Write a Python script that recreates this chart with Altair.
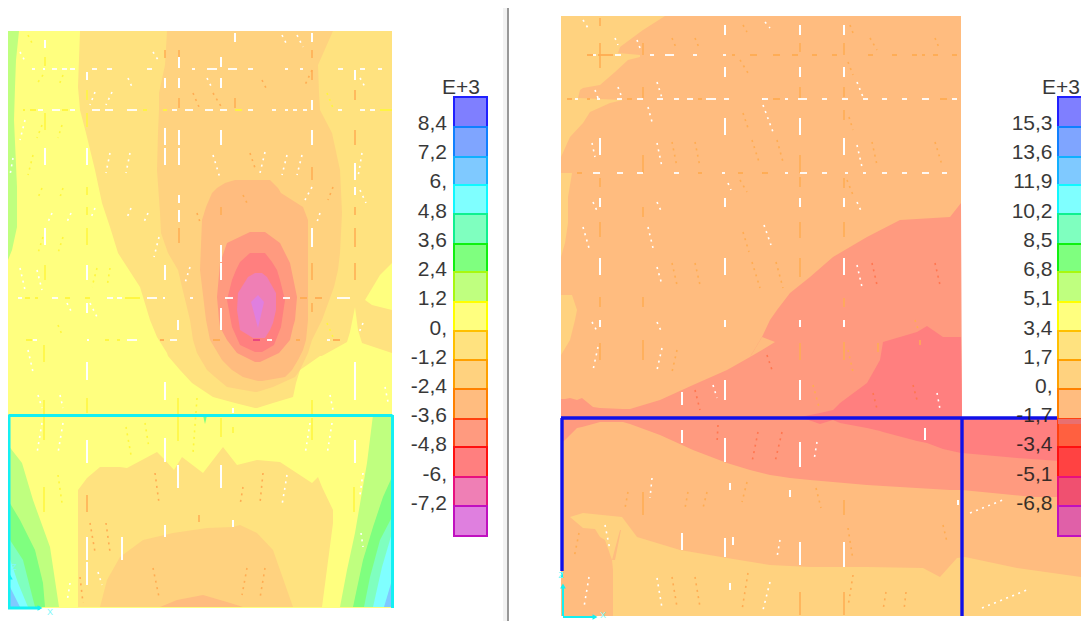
import altair as alt
import pandas as pd

# ---------- palette of the contour levels ----------
BLUE, LBLUE, SKY, CYAN = "#7F7FFF", "#7FA5FF", "#7FC9FF", "#7FFFFF"
MINT, GREEN, LGREEN, YELLOW = "#7FFFBF", "#7FFF7F", "#BFFF7F", "#FFFF7F"
LO, O2, O3, SALMON = "#FFE27F", "#FFD27F", "#FFBC7F", "#FF9A7F"
RED, PINK, MAG = "#FF7F7F", "#EF7FB5", "#DF7FDF"
W, O, Y, R = "#FFFFFF", "#FFAC52", "#FFF63C", "#FF7650"

# ---------- legend ----------
LEG_EDGES = [97, 127, 157, 185, 214, 244, 272, 302, 331, 360, 389, 419, 447, 477, 506, 536]
LEG_LEFT_FILL = [BLUE, LBLUE, SKY, CYAN, MINT, GREEN, LGREEN, YELLOW, LO, O2, O3, SALMON, RED, PINK, MAG]
LEG_RIGHT_FILL = [BLUE, LBLUE, SKY, CYAN, MINT, GREEN, LGREEN, YELLOW, LO, O2, O3, "#FF6040", "#FF4242", "#F05070", "#E060A8"]
LEG_STROKE = ["#2020FF", "#1080FF", "#10B0FF", "#10F8FF", "#10F090", "#10F010", "#A8F810", "#FFFF00",
              "#FFC000", "#FFA000", "#FF8000", "#FF4010", "#FF1010", "#E8107F", "#C010C0"]
LEFT_LABELS = ["8,4", "7,2", "6,", "4,8", "3,6", "2,4", "1,2", "0,", "-1,2", "-2,4", "-3,6", "-4,8", "-6,", "-7,2"]
RIGHT_LABELS = ["15,3", "13,6", "11,9", "10,2", "8,5", "6,8", "5,1", "3,4", "1,7", "0,", "-1,7", "-3,4", "-5,1", "-6,8"]
LABEL_Y = [124, 153, 182, 212, 241, 270, 299, 329, 358, 387, 416, 445, 475, 504]

# ---------- left panel contours: (y, left, right) rows ----------
L_LO = [(31,80,392),(87,78,392),(110,80,392),(133,86,392),(170,95,392),(203,102,392),(227,110,392),(253,118,392),
        (287,140,392),(320,150,392),(337,157,392),(353,167,392),(356,168,320),(370,180,300),(383,192,296),
        (397,213,293),(403,235,273),(408,255,257)]
L_Y_CORNER = [(263,392,392),(275,380,392),(300,365,392),(305,372,392),(310,392,392)]
L_O2 = [(31,167,333),(65,165,318),(93,159,319),(110,159,320),(133,158,332),(170,157,340),(213,160,342),(233,161,341),
        (253,168,340),(270,178,338),(287,182,334),(320,190,322),(340,193,312),(353,197,308),(370,207,300),
        (377,215,295),(387,227,273),(392,255,257)]
L_O3 = [(180,235,270),(183,225,273),(188,217,278),(193,212,281),(207,206,303),(220,202,308),(270,200,308),(320,206,308),
        (340,210,306),(350,216,303),(360,222,298),(370,232,292),(377,243,285),(381,258,262)]
L_SALMON = [(232,250,265),(243,227,280),(263,220,290),(297,217,297),(320,219,295),(327,220,293),(340,227,290),(353,237,279),(362,255,260)]
L_RED = [(253,250,265),(262,240,272),(270,236,277),(280,232,280),(300,227,285),(327,232,281),(345,240,274),(352,255,262)]
L_PINK = [(273,255,262),(277,248,267),(293,238,276),(310,237,276),(323,239,273),(330,240,270),(338,253,265)]
L_MAG = [(295,258,258),(302,251,264),(328,258,258)]
L_GREEN_STRIP = [(31,8,19),(60,8,16),(87,8,15),(120,8,14),(187,8,17),(227,8,17),(250,8,12),(260,8,8)]
# bottom-left corner fans: (y, left, right)
LC = [(LGREEN,[(445,8,8),(463,8,22),(500,8,33),(547,8,50),(607,8,59)]),
      (GREEN,[(500,8,8),(520,8,20),(550,8,35),(583,8,43),(607,8,45)]),
      (MINT,[(537,8,8),(560,8,23),(607,8,35)]),
      (CYAN,[(553,8,8),(583,8,18),(607,8,28)]),
      (SKY,[(583,8,8),(607,8,20)]),
      (LGREEN,[(415,373,392),(463,367,392),(533,355,392),(570,347,392),(607,340,392)]),
      (GREEN,[(477,392,392),(497,383,392),(527,373,392),(560,363,392),(607,353,392)]),
      (MINT,[(517,392,392),(540,380,392),(577,370,392),(607,364,392)]),
      (CYAN,[(533,392,392),(567,382,392),(607,373,392)]),
      (SKY,[(580,392,392),(607,384,392)]),
      (GREEN,[(415,203,207),(420,204,206),(424,205,205)])]
# (x, top, bottom) columns
L_Y_PATCH = [(320,357,360),(347,342,360),(350,332,360),(355,307,360),(358,330,360),(362,343,360),(392,353,360)]
L_BOT_LO = [(78,490,607),(87,478,607),(100,467,607),(120,467,607),(127,468,607),(157,452,607),(165,460,607),(174,470,607),
            (182,457,607),(203,473,607),(223,447,607),(237,465,607),(257,460,607),(280,462,607),(312,483,607),(318,477,607),
            (322,487,607),(333,510,523)]
L_BOT_O2 = [(100,607,607),(107,580,607),(120,557,607),(143,540,607),(173,533,607),(207,528,607),(233,527,607),(240,525,607),
            (257,533,607),(273,550,607),(293,607,607)]
L_BOT_O3 = [(160,607,607),(177,600,607),(203,595,607),(227,602,607),(243,607,607)]

# ---------- right panel contours ----------
R_O2_TOP = [(16,561,665),(30,561,643),(47,561,620),(53,561,618),(55,561,640),(57,561,640),(60,561,628),(72,561,615),(85,561,600),
            (88,561,583),(90,561,580),(98,561,578),(100,561,623),(103,561,610),(112,561,590),(123,561,583),(137,561,570),(157,561,561)]
R_O2_EDGE1 = [(173,561,572),(197,561,568),(223,561,568),(243,561,565),(257,561,561)]
R_O2_EDGE2 = [(295,561,572),(310,561,577),(320,561,575),(340,561,570),(355,561,561)]
R_SALMON = [(561,399,443),(565,399,440),(570,398,435),(577,400,428),(582,398,427),(593,407,424),(600,408,422),(623,409,422),
            (630,409,424),(660,400,435),(693,385,450),(727,370,463),(750,357,470),(762,337,473),(770,320,475),(777,310,476),
            (790,293,478),(810,277,480),(833,257,482),(867,237,485),(900,220,487),(950,217,490),(961,203,490),(962,418,490),
            (1033,418,497),(1089,418,497)]
R_O3_TIP = [(750,357,357),(762,350,337),(775,342,342)]
R_RED = [(800,417,417),(820,413,424),(833,410,420),(840,403,423),(867,383,428),(880,360,431),(883,342,432),(917,332,441),
         (927,326,443),(943,337,449),(961,337,453),(962,418,453),(1017,418,458),(1089,418,463)]
R_O2_BOT = [(561,517,616),(570,517,616),(583,513,616),(622,517,616),(637,537,616),(680,550,616),(727,558,616),(770,565,616),
            (810,567,616),(867,567,616),(923,568,616),(940,577,616),(957,558,616),(965,557,616),(1017,568,616),(1089,578,616)]
R_O3_WEDGE = [(561,510,616),(570,517,616),(583,528,616),(595,529,616),(600,537,616),(605,540,616),(612,560,616),(613,570,616)]
R_O3_SPIKE = [(530,620,621),(560,612,615)]

# ---------- element edges: vertical ticks  (x, y0, y1, colour) ----------
V_TICKS = [
 (45,40,48,W),(45,57,66,Y),(45,113,130,Y),(45,148,165,W),(45,228,245,W),(45,265,280,Y),
 (87,72,80,W),(87,90,100,Y),(87,113,127,Y),(87,148,165,W),(87,187,195,Y),(87,207,215,Y),(87,228,245,Y),(87,265,280,W),(87,303,313,W),
 (165,50,58,O),(165,78,88,W),(165,128,145,W),(165,148,165,W),(165,265,280,W),
 (179,50,58,O),(179,57,68,W),(179,78,88,W),(179,98,108,O),(179,130,145,W),(179,148,165,W),(179,195,203,W),(179,210,222,W),(179,228,243,O),
 (221,57,67,W),(221,78,88,W),(221,130,145,W),(221,207,215,O),(221,245,262,W),(221,263,280,W),(221,308,320,W),(235,33,42,W),(235,98,108,O),
 (312,33,42,W),(312,50,58,O),(312,70,80,O),(312,100,110,W),(312,130,145,W),(312,167,180,O),(312,228,247,W),(312,263,280,O),(312,303,312,O),
 (355,70,80,W),(355,90,100,O),(355,130,145,O),(355,163,180,W),(355,187,195,W),(355,207,215,O),(355,228,247,O),(355,263,280,O),
 (44,345,362,Y),(44,400,415,Y),(44,417,440,Y),(44,487,512,Y),
 (87,362,380,W),(87,398,413,Y),(87,440,463,W),(87,495,512,O),(87,537,560,W),(87,562,585,W),(122,537,560,W),
 (165,382,400,W),(165,438,462,W),(165,525,537,W),(178,320,330,W),(178,398,415,Y),(178,417,441,Y),(178,465,488,W),
 (221,320,330,W),(221,418,437,Y),(221,465,488,W),(233,408,413,W),(233,427,433,Y),(233,520,527,W),(199,515,522,O),
 (312,400,415,Y),(312,418,440,Y),(355,362,400,W),(355,440,463,W),(354,487,512,Y),
 (600,18,26,O),(600,43,68,O),(600,138,155,W),(600,178,187,O),(600,198,207,W),(600,222,237,O),(600,258,275,W),(600,297,307,O),(600,320,327,W),(600,343,360,O),
 (643,43,55,O),(643,87,98,O),(643,155,173,O),(643,207,217,O),(643,297,307,O),(643,340,360,O),(643,492,515,O),
 (725,25,35,W),(725,67,77,W),(725,118,135,W),(725,198,207,W),(725,258,275,W),(725,320,327,W),(725,380,400,W),(725,438,462,W),(725,538,557,W),
 (682,392,405,W),(682,430,443,W),(682,533,550,W),(730,483,490,W),(733,537,545,W),(730,583,590,W),(790,490,497,W),
 (800,25,35,W),(800,43,52,O),(800,67,77,W),(800,87,98,O),(800,118,135,W),(800,155,173,O),(800,177,187,O),(800,198,207,W),(800,222,238,O),(800,258,277,O),
 (800,320,327,W),(800,343,360,O),(800,380,400,W),(800,442,467,W),(800,542,565,W),(800,592,615,O),
 (844,25,35,W),(844,43,55,O),(844,67,77,W),(844,87,97,O),(844,110,120,O),(844,138,155,W),(844,178,188,O),(844,198,207,W),(844,222,237,O),(844,258,275,W),(844,298,307,O),
 (844,320,327,W),(844,342,360,O),(844,500,515,O),(844,542,567,W),(844,592,615,O),(878,343,352,O),(925,428,440,W),(920,340,345,O),(958,500,505,W),
]
# ---------- mesh lines: horizontal dashes (y, x0, x1, colour) ----------
H_DASHES = [(69,a,b,W) for a,b in [(32,35),(43,45),(52,57),(62,67),(70,75),(92,97),(107,112),(147,152),(192,195),(207,217),(228,237),(248,253),(285,288),(300,303),(338,343),(360,365),(378,382)]]
H_DASHES += [(110,a,b,W) for a,b in [(38,43),(52,60),(70,75),(92,100),(105,113),(127,137),(172,177),(185,193),(205,213),(220,227),(248,253),(272,276),(285,288),(293,297),(303,307),(338,342),(360,365),(370,375)]]
H_DASHES += [(110,a,b,Y) for a,b in [(23,25),(30,36),(62,68),(143,147),(163,167),(235,242),(380,392)]]
H_DASHES += [(298,a,b,W) for a,b in [(18,22),(52,58),(107,113),(117,122),(147,157),(163,165),(190,193),(225,233),(283,290),(337,350)]]
H_DASHES += [(298,a,b,Y) for a,b in [(25,30),(35,38),(65,70),(85,90),(125,140)]] + [(298,a,b,O) for a,b in [(300,307),(315,322)]]
H_DASHES += [(340,a,b,W) for a,b in [(33,37),(87,89),(127,137),(170,177),(267,272),(327,330)]]
H_DASHES += [(340,a,b,Y) for a,b in [(26,32),(105,109),(117,120)]] + [(340,a,b,O) for a,b in [(160,164),(213,220),(296,300),(333,340)]] + [(340,253,260,"#E8407F")]
H_DASHES += [(55,a,b,W) for a,b in [(593,596),(615,621),(650,654),(665,674),(693,697),(723,726)]]
H_DASHES += [(55,a,b,O) for a,b in [(587,593),(598,613),(732,735),(750,757),(773,780),(792,798),(812,817),(832,837),(868,873),(892,897),(912,917),(922,925),(933,938),(952,957)]]
H_DASHES += [(99,a,b,W) for a,b in [(575,578),(597,600),(617,622),(637,643),(657,663),(674,679),(687,693),(706,716),(724,729),(762,768),(785,788),(798,807),(822,827),(842,848),(863,868),(882,887),(902,907),(922,929),(952,957)]]
H_DASHES += [(99,a,b,O) for a,b in [(567,572),(587,590),(627,632),(698,702),(773,780),(940,947)]]
H_DASHES += [(173,a,b,W) for a,b in [(593,600),(617,623),(637,643),(674,679),(722,725),(785,788),(800,807),(822,827),(845,848),(863,866),(882,887),(902,907),(922,929),(942,947)]]
H_DASHES += [(173,a,b,O) for a,b in [(577,582),(698,702),(738,743),(762,768)]]

# ---------- slanted dotted mesh lines (x0, y0, x1, y1, colour) ----------
DOTS = [
 (28,35,33,45,Y),(20,52,26,63,W),(153,52,160,63,W),(128,78,132,87,W),(207,78,212,88,W),(43,75,36,85,Y),(63,75,59,85,Y),(95,92,90,105,W),(112,92,106,105,W),
 (193,93,199,107,O),(213,93,222,108,O),(25,120,20,140,W),(62,125,58,138,Y),(42,125,37,138,Y),(13,158,10,175,W),(33,155,28,175,Y),(110,153,106,173,W),(130,153,126,173,W),
 (213,155,220,178,W),(42,188,37,200,Y),(63,188,59,200,Y),(243,195,247,203,O),(52,213,48,222,W),(71,213,67,222,W),(95,208,90,220,W),(131,208,126,220,W),(148,213,144,222,W),
 (197,213,200,222,O),(159,237,154,257,W),(63,237,58,253,Y),(43,237,38,253,Y),(20,268,25,290,W),(37,270,42,290,W),(97,268,92,287,Y),(110,268,107,287,Y),(190,267,185,283,W),
 (67,303,72,313,W),(90,303,97,317,W),(282,35,287,45,W),(297,35,303,47,W),(262,80,266,88,O),(312,70,305,85,O),(360,78,365,87,W),(327,93,333,108,Y),(265,152,260,173,W),
 (287,155,282,175,W),(302,155,297,175,W),(250,153,255,168,O),(312,187,305,200,W),(333,187,328,200,O),(320,213,317,222,W),(360,190,366,203,W),(362,153,358,177,W),
 (28,350,33,372,W),(58,325,63,337,Y),(38,395,42,408,W),(60,395,63,408,W),(42,423,37,453,W),(63,423,58,453,W),(126,427,131,455,Y),(145,423,149,448,Y),(58,475,62,503,Y),
 (155,473,159,503,O),(90,523,95,552,O),(106,523,110,552,O),(80,577,83,603,O),(153,568,159,597,O),(247,568,242,595,O),(243,487,240,505,O),(197,398,193,453,Y),(70,583,67,602,W),
 (98,572,102,585,W),(330,395,333,410,W),(332,423,327,455,W),(310,423,305,455,W),(287,475,282,505,W),(263,473,260,503,O),(265,568,260,598,O),(363,473,360,495,W),
 (361,533,363,547,W),(363,323,358,335,W),(327,323,333,337,Y),(385,387,388,402,W),
 (583,20,588,28,W),(615,38,618,45,W),(637,40,640,48,W),(672,38,677,50,O),(695,38,700,50,O),(765,22,770,28,W),(743,25,747,32,O),(740,60,748,73,O),(595,90,598,98,W),(618,87,622,98,W),
 (657,82,662,98,W),(648,107,652,122,W),(763,105,773,132,W),(743,113,748,128,O),(592,143,595,157,W),(657,143,662,167,W),(672,142,677,167,O),(695,142,700,167,O),(752,140,759,162,O),
 (777,140,783,162,O),(740,180,747,192,O),(728,183,731,190,W),(593,202,598,213,W),(657,202,662,213,W),(583,227,589,248,W),(648,227,653,248,W),(743,232,749,252,O),(764,225,771,245,W),
 (657,267,662,285,W),(672,263,677,285,O),(695,263,700,285,O),(752,262,760,288,O),(776,262,783,288,O),(850,25,853,33,O),(870,38,877,50,O),(935,38,940,50,O),(848,62,853,75,O),
 (857,82,863,97,W),(849,117,853,130,O),(857,145,862,167,W),(872,142,877,165,O),(935,142,942,165,O),(847,180,853,195,O),(857,202,862,213,W),(857,265,862,287,W),(872,263,877,285,R),
 (935,263,940,285,R),(592,322,598,333,W),(657,322,662,333,W),(598,347,593,370,W),(662,348,657,370,W),(677,350,672,372,O),(767,355,773,373,R),(713,385,717,398,W),(695,390,700,410,R),
 (718,425,717,443,R),(758,432,752,462,R),(782,432,775,462,R),(652,478,650,498,W),(747,482,742,502,O),(688,492,685,508,O),(707,492,703,508,O),(628,492,625,508,O),(605,525,610,550,W),
 (780,540,777,557,W),(589,577,584,607,W),(657,578,662,608,W),(672,577,677,607,O),(695,577,700,607,O),(748,573,742,610,O),(770,582,763,610,W),(579,533,574,558,O),
 (813,385,819,407,O),(873,393,877,409,R),(913,385,917,400,R),(937,393,940,409,W),(848,350,853,372,O),(915,320,919,332,O),(817,442,814,460,W),(816,488,821,508,O),(848,528,853,560,O),
 (943,525,947,542,O),(853,575,848,607,O),(886,592,883,610,O),(906,592,904,610,O),(970,513,1003,500,W),(982,608,1027,590,W),
]

# ---------- frame members: (x0, y0, x1, y1) ----------
CYAN_FRAME = [(8.5,415.5,392.5,415.5),(9,415,9,608),(392.5,415,392.5,608),(8,608,40,608)]
BLUE_FRAME = [(561,418,1058,418),(562,418,562,571),(962,418,962,616)]
AXIS_CYAN = [(563,586,563,616),(563,617,595,617),(562,572,562,578)]
DIVIDER = [(508,6,508,621)]
DIVIDER_SHADE = [(505,6,505,621)]
ARROWS = [(40,608,"triangle-right"),(10,577,"triangle-up"),(595,617,"triangle-right"),(563,586,"triangle-up")]
AXIS_TEXT = [(50,612,"X"),(603,615,"X"),(14,567,"Z"),(561,575,"Z")]

# ---------- scales ----------
sx = alt.Scale(domain=[8, 1081], range=[0, 1073], nice=False, zero=False)
sy = alt.Scale(domain=[8, 621], range=[0, 613], nice=False, zero=False)
X = alt.X("x:Q", scale=sx, axis=None)
Y_ = alt.Y("y:Q", scale=sy, axis=None)


def rows(color, data):
    """Band with y as key and x/x2 as its edges."""
    df = pd.DataFrame(data, columns=["y", "x", "x2"])
    return alt.Chart(df).mark_area(orient="horizontal", color=color, interpolate="linear").encode(
        y=Y_, x=X, x2=alt.X2("x2:Q"))


def cols(color, data):
    """Band with x as key and y/y2 as its edges."""
    df = pd.DataFrame(data, columns=["x", "y", "y2"])
    return alt.Chart(df).mark_area(orient="vertical", color=color, interpolate="linear").encode(
        x=X, y=Y_, y2=alt.Y2("y2:Q"))


def segs(data, width, color=None, dash=None, opacity=1):
    cols_ = ["x", "y", "x2", "y2"] + (["c"] if color is None else [])
    df = pd.DataFrame(data, columns=cols_)
    kw = {"strokeWidth": width, "opacity": opacity}
    if dash:
        kw["strokeDash"] = dash
    if color:
        kw["color"] = color
    enc = dict(x=X, y=Y_, x2=alt.X2("x2:Q"), y2=alt.Y2("y2:Q"))
    if color is None:
        enc["color"] = alt.Color("c:N", scale=None)
    return alt.Chart(df).mark_rule(**kw).encode(**enc)


def legend(x0, x1, fills, labels, label_x, e3_x, e3_align):
    n = len(fills)
    df = pd.DataFrame({"x": [x0]*n, "x2": [x1]*n, "y": LEG_EDGES[:-1], "y2": LEG_EDGES[1:], "f": fills, "s": LEG_STROKE})
    bars = alt.Chart(df).mark_rect(strokeWidth=2).encode(
        x=X, x2=alt.X2("x2:Q"), y=Y_, y2=alt.Y2("y2:Q"),
        fill=alt.Fill("f:N", scale=None), stroke=alt.Stroke("s:N", scale=None))
    tx = pd.DataFrame({"x": [label_x]*len(labels), "y": LABEL_Y, "t": labels})
    text = alt.Chart(tx).mark_text(align="right", baseline="middle", font="Liberation Sans", fontSize=21,
                                   color="#1c1c1c", opacity=0.88).encode(x=X, y=Y_, text="t:N")
    e3 = alt.Chart(pd.DataFrame({"x": [e3_x], "y": [88], "t": ["E+3"]})).mark_text(
        align=e3_align, baseline="middle", font="Liberation Sans", fontSize=21, color="#1c1c1c", opacity=0.88
    ).encode(x=X, y=Y_, text="t:N")
    return [bars, text, e3]


white_ticks = [t for t in V_TICKS if t[3] == W]
color_ticks = [t for t in V_TICKS if t[3] != W]

layers = []
# left panel
layers += [cols(YELLOW, [(8,31,608),(392,31,608)]), rows(LGREEN, L_GREEN_STRIP), rows(LO, L_LO), rows(YELLOW, L_Y_CORNER),
           cols(YELLOW, L_Y_PATCH), rows(O2, L_O2), rows(O3, L_O3), rows(SALMON, L_SALMON), rows(RED, L_RED), rows(PINK, L_PINK), rows(MAG, L_MAG),
           cols(LO, L_BOT_LO), cols(O2, L_BOT_O2), cols(O3, L_BOT_O3)]
layers += [rows(c, d) for c, d in LC]
# right panel
layers += [cols(O3, [(561,16,616),(961,16,616)]), cols(O3, [(961,418,616),(1089,418,616)]),
           rows(O2, R_O2_TOP), rows(O2, R_O2_EDGE1), rows(O2, R_O2_EDGE2),
           cols(SALMON, R_SALMON), cols(O3, R_O3_TIP), cols(RED, R_RED), cols(O2, R_O2_BOT),
           cols(O3, R_O3_WEDGE), rows(O3, R_O3_SPIKE)]
# mesh marks
layers += [segs([(x, a, x, b, c) for x, a, b, c in color_ticks], 1.5),
           segs([(x, a, x, b, c) for x, a, b, c in white_ticks], 2),
           segs([(a, y, b, y, c) for y, a, b, c in H_DASHES], 1.8),
           segs(DOTS, 1.6, dash=[2, 4.5])]
# frames
layers += [segs(CYAN_FRAME, 3, color="#14F0F2"), segs(BLUE_FRAME, 3.4, color="#1010E8"), segs(AXIS_CYAN, 2, color="#14F0F2"),
           segs(DIVIDER_SHADE, 4, color="#F2F2F2"), segs(DIVIDER, 2, color="#989898")]
arr = pd.DataFrame(ARROWS, columns=["x", "y", "shape"])
layers.append(alt.Chart(arr).mark_point(filled=True, size=32, color="#14F0F2", opacity=1).encode(
    x=X, y=Y_, shape=alt.Shape("shape:N", scale=None)))
ax = pd.DataFrame(AXIS_TEXT, columns=["x", "y", "t"])
layers.append(alt.Chart(ax).mark_text(font="Liberation Sans", fontSize=9, color="#80F8FA", baseline="middle").encode(x=X, y=Y_, text="t:N"))
# legends
layers += legend(454, 487, LEG_LEFT_FILL, LEFT_LABELS, 447, 461, "center")
layers += legend(1058, 1093, LEG_RIGHT_FILL, RIGHT_LABELS, 1052.5, 1080, "right")
layers.append(alt.Chart(pd.DataFrame({"x":[1058],"x2":[1093],"y":[419],"y2":[424]})).mark_rect(color="#E87070").encode(
    x=X, x2=alt.X2("x2:Q"), y=Y_, y2=alt.Y2("y2:Q")))

chart = alt.layer(*layers).properties(
    width=1073, height=613, padding=0, autosize=alt.AutoSizeParams(type="none"), background="white"
).configure_view(stroke=None)
chart.save("out.html", embed_options={"renderer": "svg", "actions": False})
